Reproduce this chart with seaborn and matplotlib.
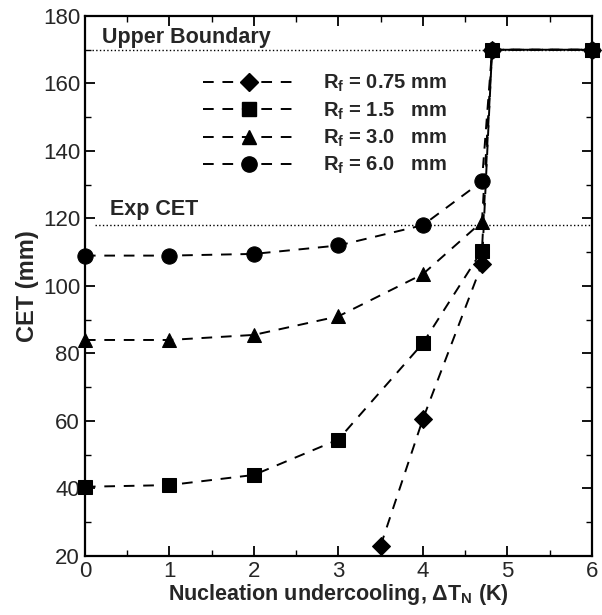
import matplotlib
matplotlib.use("Agg")
import matplotlib.pyplot as plt
import seaborn as sns
import pandas as pd
from matplotlib.ticker import MultipleLocator
from matplotlib.lines import Line2D

# data
x_075 = [3.5, 4.0, 4.7, 4.82, 6.0]
y_075 = [23, 60.5, 106.5, 170, 170]
x_15 = [0, 1, 2, 3, 4, 4.7, 4.82, 6.0]
y_15 = [40.5, 41, 44, 54.5, 83, 110.5, 170, 170]
x_30 = [0, 1, 2, 3, 4, 4.7, 4.82, 6.0]
y_30 = [84, 84, 85.5, 91, 103.5, 119, 170, 170]
x_60 = [0, 1, 2, 3, 4, 4.7, 4.82, 6.0]
y_60 = [109, 109, 109.5, 112, 118, 131, 170, 170]
labels = [r"R$_\mathregular{f}$ = 0.75 mm", r"R$_\mathregular{f}$ = 1.5   mm",
          r"R$_\mathregular{f}$ = 3.0   mm", r"R$_\mathregular{f}$ = 6.0   mm"]
markers = ["D", "s", "^", "o"]
upper_boundary = 170
exp_cet = 118

sns.set_theme(style="ticks")
plt.rcParams['font.family'] = ['Liberation Sans', 'DejaVu Sans']
plt.rcParams['mathtext.fontset'] = 'custom'
plt.rcParams['mathtext.rm'] = 'Liberation Sans:bold'

fig = plt.figure(figsize=(6.02, 6.15), dpi=100)
ax = fig.add_axes([0.141, 0.096, 0.842, 0.878])

dash = (0, (5.5, 4.5))
series = [(x_075, y_075), (x_15, y_15), (x_30, y_30), (x_60, y_60)]
sizes = [9.5, 10, 10.5, 11]
for (xs, ys), m, lab, ms in zip(series, markers, labels, sizes):
    df = pd.DataFrame({"x": xs, "y": ys})
    sns.lineplot(data=df, x="x", y="y", ax=ax, color="black", linestyle=dash,
                 linewidth=1.4, marker=m, markersize=ms, markeredgecolor="black",
                 markerfacecolor="black", clip_on=False, legend=False, zorder=3)

ax.axhline(upper_boundary, xmin=0.015, xmax=1, color="black", linestyle=":", linewidth=1)
ax.axhline(exp_cet, xmin=0.02, xmax=1, color="black", linestyle=":", linewidth=1)
ax.text(0.2, 172, "Upper Boundary", fontsize=15.5, fontweight="bold", va="baseline", ha="left")
ax.text(0.3, 121, "Exp CET", fontsize=15.5, fontweight="bold", va="baseline", ha="left")

ax.set_xlim(0, 6)
ax.set_ylim(20, 180)
ax.xaxis.set_major_locator(MultipleLocator(1))
ax.xaxis.set_minor_locator(MultipleLocator(0.5))
ax.yaxis.set_major_locator(MultipleLocator(20))
ax.yaxis.set_minor_locator(MultipleLocator(10))
ax.tick_params(which="both", direction="in", top=True, right=True, labelsize=16, color="black")
ax.tick_params(which="major", length=7, width=1.3)
ax.tick_params(which="minor", length=4, width=1)
for s in ax.spines.values():
    s.set_linewidth(1.6)
    s.set_color("black")

ax.set_xlabel(r"Nucleation undercooling, ΔT$_\mathregular{N}$ (K)", fontsize=15.5,
              fontweight="bold", labelpad=0)
ax.set_ylabel("CET (mm)", fontsize=17, fontweight="bold", labelpad=3)

handles = [Line2D([0], [0], color="black", linestyle=dash, linewidth=1.4, marker=m,
                  markersize=ms, markerfacecolor="black", markeredgecolor="black")
           for m, ms in zip(markers, sizes)]
leg = ax.legend(handles, labels, loc="upper left", bbox_to_anchor=(0.197, 0.928), frameon=False,
                numpoints=1, handlelength=4.57, handletextpad=1.39, labelspacing=0.3,
                prop={"size": 14.5, "weight": "bold"})

fig.savefig("out.png", dpi=100)
